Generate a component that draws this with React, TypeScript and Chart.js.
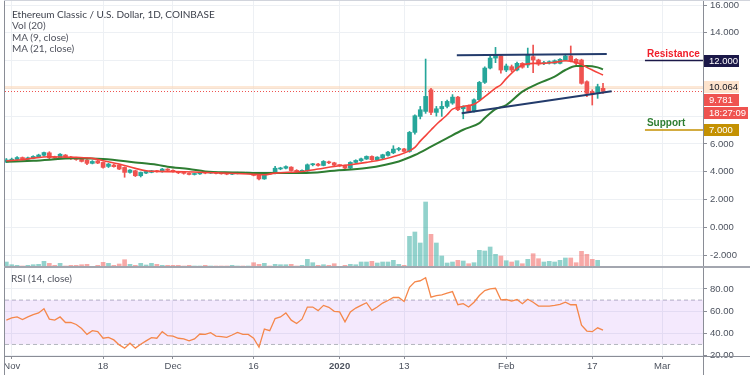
import React, { useEffect, useRef } from 'react';
import { Chart, registerables } from 'chart.js';

Chart.register(...registerables);

// Day index: 0 = 31 Oct 2019, 1 = 1 Nov 2019 ... 111 = 19 Feb 2020
const opens = [
  4.70, 4.82, 4.88, 5.02, 4.90, 4.98, 5.08, 5.18, 5.36, 5.06,
  4.98, 5.20, 5.06, 4.98, 4.96, 4.84, 4.60, 4.78, 4.67, 4.38,
  4.48, 4.48, 4.31, 3.95, 4.07, 3.71, 3.90, 3.95, 4.07, 4.00,
  4.19, 4.10, 4.00, 3.92, 3.88, 3.80, 3.84, 3.93, 3.90, 3.95,
  3.88, 3.85, 3.82, 3.87, 3.93, 3.89, 3.90, 3.74, 3.48, 3.86,
  3.86, 4.20, 4.25, 4.33, 4.10, 3.98, 4.05, 4.50, 4.55, 4.45,
  4.70, 4.64, 4.47, 4.44, 4.26, 4.67, 4.79, 4.91, 5.10, 4.86,
  4.98, 5.17, 5.36, 5.60, 5.64, 5.46, 6.83, 7.98, 8.34, 9.90,
  8.27, 8.53, 8.70, 8.94, 9.37, 8.53, 8.75, 8.34, 9.18, 10.43,
  11.46, 12.18, 12.33, 11.32, 11.56, 11.32, 11.80, 11.68, 12.28, 12.04,
  11.78, 11.82, 11.80, 11.80, 12.04, 12.33, 12.09, 12.04, 10.48, 9.76,
  9.70, 10.00,
];
const highs = [
  4.95, 4.98, 5.08, 5.06, 5.06, 5.15, 5.26, 5.42, 5.44, 5.12,
  5.30, 5.24, 5.10, 5.04, 4.99, 4.88, 4.80, 4.82, 4.70, 4.60,
  4.54, 4.52, 4.35, 4.16, 4.10, 3.98, 4.06, 4.10, 4.10, 4.24,
  4.22, 4.14, 4.03, 3.95, 3.91, 3.88, 3.96, 3.96, 3.98, 3.97,
  3.91, 3.88, 3.90, 3.96, 3.95, 3.93, 3.92, 3.78, 3.90, 3.94,
  4.38, 4.32, 4.42, 4.36, 4.15, 4.14, 4.56, 4.60, 4.60, 4.80,
  4.76, 4.68, 4.52, 4.48, 4.72, 4.86, 4.98, 5.14, 5.14, 5.08,
  5.26, 5.46, 5.87, 5.75, 5.68, 6.90, 8.10, 8.70, 12.11, 10.00,
  8.70, 9.06, 9.15, 9.55, 9.42, 8.75, 8.80, 9.25, 10.50, 11.55,
  12.30, 12.95, 12.40, 11.75, 11.68, 11.90, 11.85, 12.90, 13.12, 12.10,
  11.95, 11.98, 12.05, 12.15, 12.40, 13.05, 12.15, 12.10, 10.55, 9.90,
  10.30, 10.36,
];
const lows = [
  4.65, 4.76, 4.82, 4.84, 4.86, 4.93, 5.02, 5.12, 4.94, 4.92,
  4.94, 5.02, 4.88, 4.82, 4.70, 4.50, 4.56, 4.58, 4.25, 4.30,
  4.32, 4.15, 3.60, 3.90, 3.65, 3.62, 3.86, 3.92, 3.96, 3.96,
  4.05, 3.96, 3.86, 3.82, 3.76, 3.76, 3.81, 3.85, 3.87, 3.84,
  3.82, 3.78, 3.79, 3.84, 3.86, 3.85, 3.70, 3.40, 3.45, 3.80,
  3.84, 4.14, 4.20, 4.04, 3.96, 3.95, 4.02, 4.42, 4.40, 4.42,
  4.58, 4.42, 4.38, 4.20, 4.22, 4.62, 4.74, 4.88, 4.82, 4.82,
  4.94, 5.12, 5.30, 5.50, 5.40, 5.40, 6.70, 7.80, 8.20, 8.10,
  8.00, 7.98, 8.60, 8.85, 8.40, 7.81, 8.30, 8.28, 9.10, 10.35,
  11.40, 11.85, 11.10, 11.20, 11.20, 11.25, 11.45, 11.50, 11.13, 11.65,
  11.70, 11.75, 11.75, 11.75, 11.98, 11.90, 11.70, 10.30, 9.40, 8.80,
  9.28, 9.64,
];
const closes = [
  4.85, 4.90, 5.02, 4.90, 5.00, 5.10, 5.20, 5.38, 5.00, 4.96,
  5.26, 5.06, 4.94, 4.88, 4.74, 4.60, 4.74, 4.62, 4.31, 4.55,
  4.36, 4.19, 3.95, 4.12, 3.71, 3.95, 4.02, 4.07, 4.00, 4.19,
  4.10, 4.00, 3.92, 3.88, 3.80, 3.84, 3.93, 3.90, 3.95, 3.88,
  3.85, 3.82, 3.87, 3.93, 3.89, 3.90, 3.74, 3.48, 3.85, 3.83,
  4.25, 4.27, 4.37, 4.08, 4.01, 4.10, 4.50, 4.52, 4.45, 4.74,
  4.64, 4.47, 4.44, 4.26, 4.67, 4.81, 4.93, 5.10, 4.86, 5.05,
  5.22, 5.41, 5.63, 5.64, 5.46, 6.83, 8.03, 8.46, 9.42, 8.27,
  8.53, 8.70, 9.06, 9.37, 8.46, 8.70, 8.34, 9.18, 10.43, 11.46,
  12.18, 12.45, 11.32, 11.61, 11.32, 11.80, 11.52, 12.40, 12.04, 11.75,
  11.85, 11.92, 11.99, 12.09, 12.33, 11.99, 11.80, 10.36, 9.64, 9.60,
  10.12, 9.781,
];
// volume (thousand ETC)
const volumes = [
  100, 46, 34, 20, 34, 46, 54, 114, 74, 34,
  74, 20, 34, 34, 46, 54, 14, 34, 94, 74,
  34, 60, 146, 54, 34, 74, 40, 74, 54, 34,
  34, 34, 34, 20, 34, 20, 20, 34, 20, 20,
  20, 20, 34, 20, 20, 20, 86, 54, 74, 20,
  54, 46, 46, 54, 20, 34, 154, 86, 34, 46,
  34, 66, 14, 34, 54, 46, 100, 100, 114, 80,
  100, 100, 134, 54, 34, 614, 700, 480, 1300, 654,
  480, 220, 80, 100, 134, 120, 66, 86, 334, 320,
  400, 254, 220, 126, 100, 126, 66, 154, 266, 166,
  100, 114, 100, 134, 180, 180, 86, 314, 254, 154,
  134, 14,
];
const rsiValues = [
  51.9, 53.9, 54.8, 52.4, 54.8, 56.9, 58.4, 62.2, 52.8, 51.9,
  54.8, 49.8, 49.8, 48.0, 44.4, 39.1, 42.4, 41.5, 35.6, 36.4,
  34.1, 29.6, 26.7, 31.1, 26.7, 30.2, 33.2, 36.1, 35.6, 41.5,
  37.9, 37.6, 35.6, 35.0, 33.2, 35.0, 39.4, 39.1, 40.6, 37.6,
  37.0, 36.4, 38.5, 40.9, 39.1, 39.1, 35.6, 27.5, 43.9, 42.4,
  53.3, 54.8, 58.4, 51.9, 48.9, 52.8, 63.7, 63.7, 60.5, 65.2,
  63.5, 59.9, 59.3, 50.4, 59.3, 62.8, 65.2, 67.6, 60.8, 63.7,
  67.3, 69.6, 72.3, 72.3, 68.7, 81.5, 86.5, 87.4, 90.1, 72.6,
  74.1, 74.7, 76.2, 77.6, 65.8, 66.7, 63.7, 68.1, 74.1, 78.5,
  80.0, 80.6, 70.2, 70.5, 69.0, 70.5, 66.7, 70.8, 68.1, 64.6,
  64.6, 64.6, 65.2, 66.1, 68.1, 65.8, 65.8, 47.4, 42.1, 41.5,
  45.0, 42.9,
];
const ma9Days = [0, 3, 5, 8, 13, 16, 18, 21, 24, 26, 28, 33, 39, 45, 48, 50, 55, 58, 61, 64, 67, 70, 73, 75, 76, 77, 78, 79, 80, 81, 82, 83, 85, 87, 89, 91, 92, 93, 95, 96, 98, 100, 102, 104, 105, 107, 108, 109, 111];
const ma9Values = [4.79, 4.86, 4.98, 5.08, 5.03, 4.96, 4.79, 4.55, 4.24, 4.07, 4.02, 4.0, 3.92, 3.83, 3.78, 3.9, 4.02, 4.19, 4.38, 4.5, 4.67, 4.88, 5.2, 5.5, 5.75, 6.2, 6.6, 7.0, 7.4, 7.75, 8.1, 8.5, 8.7, 8.85, 9.4, 10.02, 10.26, 10.7, 11.44, 11.68, 11.8, 11.8, 11.87, 11.99, 11.95, 11.73, 11.51, 11.32, 10.96];
const ma21Days = [0, 5, 13, 18, 24, 28, 30, 34, 37, 42, 48, 55, 61, 67, 73, 76, 79, 82, 85, 88, 89, 91, 93, 96, 99, 102, 104, 106, 108, 110, 111];
const ma21Values = [4.72, 4.79, 4.96, 4.91, 4.67, 4.5, 4.36, 4.19, 4.02, 3.95, 3.9, 3.9, 4.07, 4.26, 4.74, 5.2, 5.8, 6.42, 7.02, 7.5, 7.86, 8.5, 8.8, 9.76, 10.36, 10.84, 11.32, 11.61, 11.61, 11.51, 11.37];

const upperTrendDays = [83.8, 111.7];
const upperTrendValues = [12.38, 12.47];
const lowerTrendDays = [84.7, 112.6];
const lowerTrendValues = [8.21, 9.79];
const levelDays = [118.8, 131];
const resistanceLevel = 12;
const supportLevel = 7;
const lastPrice = 9.781;
const markerPrice = 10.064;
const countdownText = '18:27:09';

const timeTickDays = [1, 18, 31, 46, 62, 74, 93, 109, 122];
const timeTickLabels = ['Nov', '18', 'Dec', '16', '2020', '13', 'Feb', '17', 'Mar'];
const priceTicks = [-2, 0, 2, 4, 6, 8, 10, 12, 14, 16];
const hiddenPriceTicks = [8, 10, 12];
const rsiTicks = [20, 40, 60, 80];

const X_MIN = -0.25, X_MAX = 129.6;
const PRICE_MIN = -2.86, PRICE_MAX = 16.36;
const RSI_MIN = 19.6, RSI_MAX = 98.9;
const VOL_MAX = 5340;

const UP = '#26a69a';
const DOWN = '#ef5350';
const VOL_UP = 'rgba(38,166,154,0.5)';
const VOL_DOWN = 'rgba(239,83,80,0.5)';
const GRID = '#edf0f4';
const AXIS = '#8a8d96';
const TXT = '#4c525e';
const AXIS_FONT = "'Liberation Sans', Arial, sans-serif";
const TEXT_FONT = "Lato, 'Liberation Sans', Arial, sans-serif";

const pts = (xs: number[], ys: number[]) => xs.map((x, k) => ({ x, y: ys[k] }));
const isUp = (i: number) => closes[i] >= opens[i];

function hline(ctx: any, x1: number, x2: number, y: number) {
  ctx.beginPath(); ctx.moveTo(x1, y); ctx.lineTo(x2, y); ctx.stroke();
}
function vline(ctx: any, x: number, y1: number, y2: number) {
  ctx.beginPath(); ctx.moveTo(x, y1); ctx.lineTo(x, y2); ctx.stroke();
}
function badge(ctx: any, x: number, yc: number, w: number, bg: string, fg: string, text: string) {
  const h = 12;
  const top = Math.round(yc - h / 2);
  ctx.fillStyle = bg;
  ctx.fillRect(x, top, w, h);
  ctx.fillStyle = fg;
  ctx.font = `9.5px ${AXIS_FONT}`;
  ctx.textBaseline = 'middle';
  ctx.textAlign = 'left';
  ctx.fillText(text, x + 5, top + h / 2 + 0.5);
}

const zeroPad = (s: any) => { s.paddingTop = 0; s.paddingBottom = 0; s.paddingLeft = 0; s.paddingRight = 0; };

const mainDecor = {
  id: 'mainDecor',
  beforeDatasetsDraw(chart: any) {
    const { ctx, chartArea: a } = chart;
    const y = chart.scales.y;
    ctx.save();
    const yp = y.getPixelForValue(markerPrice);
    ctx.strokeStyle = 'rgba(251, 213, 180, 0.55)';
    ctx.lineWidth = 3;
    hline(ctx, a.left, a.right, yp);
    const yl = Math.round(y.getPixelForValue(lastPrice)) + 0.5;
    ctx.strokeStyle = '#ef5350';
    ctx.lineWidth = 1;
    ctx.setLineDash([1, 2]);
    hline(ctx, a.left, a.right, yl);
    ctx.restore();
  },
  afterDatasetsDraw(chart: any) {
    const { ctx } = chart;
    const x = chart.scales.x;
    const y = chart.scales.y;
    ctx.save();
    ctx.font = `bold 10px ${AXIS_FONT}`;
    ctx.textAlign = 'left';
    ctx.textBaseline = 'alphabetic';
    const lx = x.getPixelForValue(levelDays[0]) + 2;
    ctx.fillStyle = '#f0202b';
    ctx.fillText('Resistance', lx, y.getPixelForValue(resistanceLevel) - 4);
    ctx.fillStyle = '#2e7d32';
    ctx.fillText('Support', lx, y.getPixelForValue(supportLevel) - 4);
    ctx.restore();
  },
  afterDraw(chart: any) {
    const { ctx, chartArea: a, width, height } = chart;
    const y = chart.scales.y;
    ctx.save();
    ctx.strokeStyle = AXIS;
    ctx.lineWidth = 1;
    vline(ctx, 4.5, 0, height);
    vline(ctx, a.right + 0.5, 0, height);
    ctx.strokeStyle = '#d1d4dc';
    hline(ctx, 4, width, 0.5);
    ctx.strokeStyle = '#a3a6af';
    ctx.lineWidth = 2;
    hline(ctx, 4, width, height - 1);
    const bx = a.right + 1;
    const yMarker = y.getPixelForValue(markerPrice);
    const yLast = Math.max(y.getPixelForValue(lastPrice), yMarker + 12.5);
    badge(ctx, bx, y.getPixelForValue(resistanceLevel), 35, '#1b1848', '#ffffff', resistanceLevel.toFixed(3));
    badge(ctx, bx, yMarker, 35, '#fde3cc', '#131722', markerPrice.toFixed(3));
    badge(ctx, bx, yLast, 35, '#ef5350', '#ffffff', lastPrice.toFixed(3));
    badge(ctx, bx, yLast + 13, 44, '#ef5350', '#ffffff', countdownText);
    badge(ctx, bx, y.getPixelForValue(supportLevel), 35, '#c49102', '#ffffff', supportLevel.toFixed(3));
    ctx.restore();
  },
};

const rsiDecor = {
  id: 'rsiDecor',
  afterDraw(chart: any) {
    const { ctx, chartArea: a, width, height } = chart;
    ctx.save();
    ctx.strokeStyle = AXIS;
    ctx.lineWidth = 1;
    vline(ctx, 4.5, 0, height);
    vline(ctx, a.right + 0.5, 0, height);
    hline(ctx, 4, width, a.bottom + 0.5);
    ctx.restore();
  },
};

function mainConfig(): any {
  const idx = opens.map((_, i) => i);
  const candleColors = idx.map((i) => (isUp(i) ? UP : DOWN));
  return {
    type: 'bar',
    data: {
      datasets: [
        {
          type: 'bar', label: 'Vol (20)', yAxisID: 'yVol', grouped: false, order: 6,
          data: volumes.map((v, i) => ({ x: i, y: v })),
          backgroundColor: idx.map((i) => (isUp(i) ? VOL_UP : VOL_DOWN)),
          barThickness: 4,
        },
        {
          type: 'bar', label: 'wick', yAxisID: 'y', grouped: false, order: 5,
          data: idx.map((i) => ({ x: i, y: [lows[i], highs[i]] })),
          backgroundColor: candleColors, barThickness: 1,
        },
        {
          type: 'bar', label: 'body', yAxisID: 'y', grouped: false, order: 4,
          data: idx.map((i) => ({ x: i, y: [opens[i], closes[i]] })),
          backgroundColor: candleColors, barThickness: 4, minBarLength: 1,
        },
        {
          type: 'line', label: 'MA (21, close)', yAxisID: 'y', order: 3,
          data: pts(ma21Days, ma21Values), borderColor: '#2e7d32', borderWidth: 2,
          pointRadius: 0, cubicInterpolationMode: 'monotone', fill: false,
        },
        {
          type: 'line', label: 'MA (9, close)', yAxisID: 'y', order: 2,
          data: pts(ma9Days, ma9Values), borderColor: '#f4433c', borderWidth: 1.6,
          pointRadius: 0, cubicInterpolationMode: 'monotone', fill: false,
        },
        {
          type: 'line', label: 'upper trend', yAxisID: 'y', order: 1,
          data: pts(upperTrendDays, upperTrendValues), borderColor: '#233b6b', borderWidth: 2, pointRadius: 0,
        },
        {
          type: 'line', label: 'lower trend', yAxisID: 'y', order: 1,
          data: pts(lowerTrendDays, lowerTrendValues), borderColor: '#233b6b', borderWidth: 2, pointRadius: 0,
        },
        {
          type: 'line', label: 'Resistance', yAxisID: 'y', order: 1,
          data: pts(levelDays, [resistanceLevel, resistanceLevel]), borderColor: '#1b1848', borderWidth: 1.5, pointRadius: 0,
        },
        {
          type: 'line', label: 'Support', yAxisID: 'y', order: 1,
          data: pts(levelDays, [supportLevel, supportLevel]), borderColor: '#c49102', borderWidth: 1.5, pointRadius: 0,
        },
      ],
    },
    options: {
      responsive: false,
      animation: false,
      events: [],
      layout: { padding: { left: 5, right: 0, top: 0, bottom: 1 } },
      plugins: { legend: { display: false }, tooltip: { enabled: false } },
      scales: {
        x: {
          type: 'linear', min: X_MIN, max: X_MAX, offset: false,
          afterBuildTicks: (s: any) => { s.ticks = timeTickDays.map((v) => ({ value: v })); },
          afterFit: (s: any) => { s.height = 0; zeroPad(s); },
          ticks: { display: false },
          grid: { color: GRID, drawTicks: false, offset: false },
          border: { display: false },
        },
        y: {
          type: 'linear', position: 'right', min: PRICE_MIN, max: PRICE_MAX,
          afterBuildTicks: (s: any) => { s.ticks = priceTicks.map((v) => ({ value: v })); },
          afterFit: (s: any) => { s.width = 47; zeroPad(s); },
          ticks: {
            callback: (v: any) => (hiddenPriceTicks.includes(Number(v)) ? '' : Number(v).toFixed(3)),
            color: TXT, padding: 3, font: { family: AXIS_FONT, size: 9.5 },
          },
          grid: { color: GRID, tickLength: 4, tickColor: AXIS, drawTicks: true },
          border: { display: false },
        },
        yVol: { type: 'linear', display: false, min: 0, max: VOL_MAX },
      },
    },
    plugins: [mainDecor],
  };
}

function rsiConfig(): any {
  return {
    type: 'line',
    data: {
      datasets: [
        {
          label: 'upper band', data: pts([X_MIN, X_MAX], [70, 70]), borderColor: '#b2b5be',
          borderWidth: 1, borderDash: [4, 3], pointRadius: 0, fill: false, order: 3,
        },
        {
          label: 'lower band', data: pts([X_MIN, X_MAX], [30, 30]), borderColor: '#b2b5be',
          borderWidth: 1, borderDash: [4, 3], pointRadius: 0, fill: '-1',
          backgroundColor: 'rgba(150, 40, 240, 0.1)', order: 2,
        },
        {
          label: 'RSI (14, close)', data: rsiValues.map((v, i) => ({ x: i, y: v })),
          borderColor: '#f5874a', borderWidth: 1.3, pointRadius: 0, fill: false, order: 1,
        },
      ],
    },
    options: {
      responsive: false,
      animation: false,
      events: [],
      layout: { padding: { left: 5, right: 0, top: 0, bottom: 0 } },
      plugins: { legend: { display: false }, tooltip: { enabled: false } },
      scales: {
        x: {
          type: 'linear', min: X_MIN, max: X_MAX, offset: false,
          afterBuildTicks: (s: any) => { s.ticks = timeTickDays.map((v) => ({ value: v })); },
          afterFit: (s: any) => { s.height = 19; zeroPad(s); },
          ticks: {
            autoSkip: false, maxRotation: 0, padding: 2, color: TXT,
            callback: (v: any) => {
              const k = timeTickDays.indexOf(Number(v));
              return k >= 0 ? timeTickLabels[k] : '';
            },
            font: (c: any) => ({
              family: AXIS_FONT, size: 9.5,
              weight: c.tick && timeTickLabels[timeTickDays.indexOf(c.tick.value)] === '2020' ? 'bold' : 'normal',
            }),
          },
          grid: { color: GRID, tickLength: 3, tickColor: AXIS, offset: false },
          border: { display: false },
        },
        y: {
          type: 'linear', position: 'right', min: RSI_MIN, max: RSI_MAX,
          afterBuildTicks: (s: any) => { s.ticks = rsiTicks.map((v) => ({ value: v })); },
          afterFit: (s: any) => { s.width = 47; zeroPad(s); },
          ticks: {
            callback: (v: any) => Number(v).toFixed(2),
            color: TXT, padding: 3, font: { family: AXIS_FONT, size: 9.5 },
          },
          grid: { color: GRID, tickLength: 4, tickColor: AXIS },
          border: { display: false },
        },
      },
    },
    plugins: [rsiDecor],
  };
}

export default function App() {
  const mainRef = useRef<HTMLCanvasElement>(null);
  const rsiRef = useRef<HTMLCanvasElement>(null);

  useEffect(() => {
    document.body.style.margin = '0';
    const c1 = new Chart(mainRef.current as HTMLCanvasElement, mainConfig());
    const c2 = new Chart(rsiRef.current as HTMLCanvasElement, rsiConfig());
    return () => {
      c1.destroy();
      c2.destroy();
    };
  }, []);

  const legendLine: React.CSSProperties = { height: 11.3, lineHeight: '11.3px', whiteSpace: 'nowrap' };

  return (
    <div style={{ position: 'relative', width: 750, height: 375, overflow: 'hidden', background: '#ffffff' }}>
      <canvas ref={mainRef} width={750} height={268} style={{ position: 'absolute', left: 0, top: 0, display: 'block' }} />
      <canvas ref={rsiRef} width={750} height={107} style={{ position: 'absolute', left: 0, top: 268, display: 'block' }} />
      <div style={{ position: 'absolute', left: 12, top: 9, fontFamily: TEXT_FONT, fontSize: 10, color: '#50535e' }}>
        <div style={{ ...legendLine, color: '#3b3f4a' }}>Ethereum Classic / U.S. Dollar, 1D, COINBASE</div>
        <div style={legendLine}>Vol (20)</div>
        <div style={legendLine}>MA (9, close)</div>
        <div style={legendLine}>MA (21, close)</div>
      </div>
      <div style={{ position: 'absolute', left: 11, top: 273, fontFamily: TEXT_FONT, fontSize: 10, color: '#50535e', lineHeight: '11px' }}>
        RSI (14, close)
      </div>
    </div>
  );
}
